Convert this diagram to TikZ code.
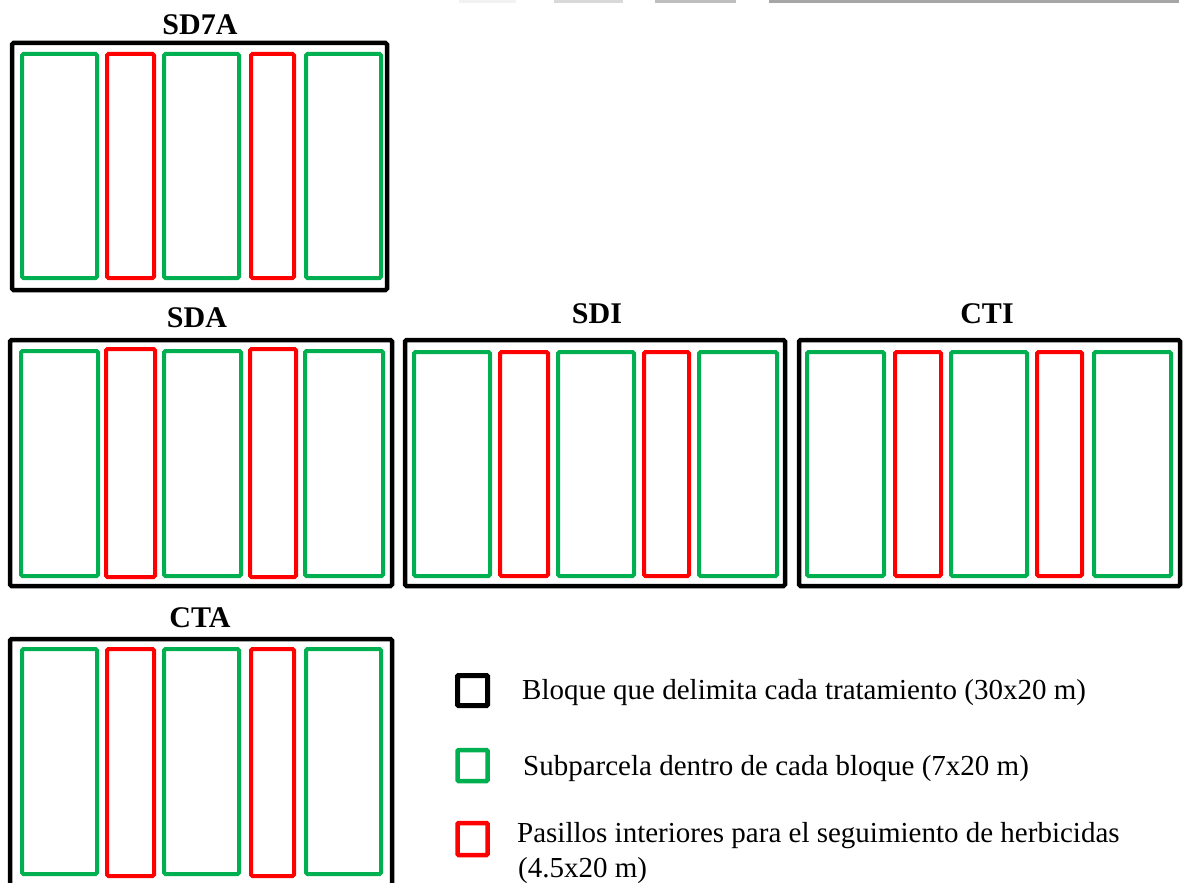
\documentclass[tikz,border=0pt]{standalone}
\usepackage{fontspec}
\setmainfont{Liberation Serif}
\definecolor{subgreen}{HTML}{00B050}
\definecolor{pasred}{HTML}{FF0000}
\definecolor{barA}{HTML}{F2F2F2}
\definecolor{barB}{HTML}{D9D9D9}
\definecolor{barC}{HTML}{BFBFBF}
\definecolor{barD}{HTML}{A6A6A6}
\begin{document}
\begin{tikzpicture}[x=1pt,y=-1pt,
  blockbox/.style={draw=black,line width=4.5pt,rounded corners=1.5pt},
  subbox/.style={draw=subgreen,line width=4pt,rounded corners=1.5pt},
  pasbox/.style={draw=pasred,line width=4pt,rounded corners=1.5pt},
  title/.style={font=\fontsize{30}{36}\selectfont\bfseries,anchor=base,inner sep=0pt},
  legtext/.style={font=\fontsize{29}{34}\selectfont,anchor=base west,inner sep=0pt,align=left}]
\useasboundingbox (0,0) rectangle (1184,883);
\fill[white] (0,0) rectangle (1184,883);
% top grey bars
\fill[barA] (459,0) rectangle (516,3.5);
\fill[barB] (554,0) rectangle (623,3.5);
\fill[barC] (655,0) rectangle (736,3.5);
\fill[barD] (769,0) rectangle (1179,3.5);

% ---------- SD7A ----------
\node[title] (tSD7A) at (200,35) {SD7A};
\draw[blockbox] (12,43) rectangle (387,290);
\foreach \a/\b in {22/97,164/239,306/381}
  \draw[subbox] (\a,54) rectangle (\b,278);
\foreach \a/\b in {107/154,251/294}
  \draw[pasbox] (\a,54) rectangle (\b,278);

% ---------- SDA ----------
\node[title] (tSDA) at (197,327) {SDA};
\draw[blockbox] (10,340) rectangle (392,586);
\foreach \a/\b in {21/98,164/241,305/383}
  \draw[subbox] (\a,351) rectangle (\b,576);
\foreach \a/\b in {106/155,250/296}
  \draw[pasbox] (\a,349) rectangle (\b,577);

% ---------- SDI ----------
\node[title] (tSDI) at (597,323) {SDI};
\draw[blockbox] (405,340) rectangle (785,586);
\foreach \a/\b in {414/490,558/634,699/777}
  \draw[subbox] (\a,352) rectangle (\b,576);
\foreach \a/\b in {500/548,644/689}
  \draw[pasbox] (\a,352) rectangle (\b,576);

% ---------- CTI ----------
\node[title] (tCTI) at (987,323) {CTI};
\draw[blockbox] (799,340) rectangle (1180,586);
\foreach \a/\b in {807/884,951/1027,1094/1171}
  \draw[subbox] (\a,352) rectangle (\b,576);
\foreach \a/\b in {895/941,1037/1082}
  \draw[pasbox] (\a,352) rectangle (\b,576);

% ---------- CTA ----------
\node[title] (tCTA) at (200,627) {CTA};
\begin{scope}
  \clip (0,0) rectangle (1184,883);
  \draw[blockbox] (10,639) rectangle (392,893);
  \foreach \a/\b in {22/97,164/239,306/381}
    \draw[subbox] (\a,649) rectangle (\b,874);
  \foreach \a/\b in {107/154,251/294}
    \draw[pasbox] (\a,649) rectangle (\b,876);
\end{scope}

% ---------- legend ----------
\draw[draw=black,line width=5pt,rounded corners=1pt] (457.5,675.5) rectangle (487.5,705.5);
\node[legtext] (l1) at (522,699) {Bloque que delimita cada tratamiento (30x20 m)};
\draw[draw=subgreen,line width=4.5pt,rounded corners=1pt] (457.5,750) rectangle (487.5,781);
\node[legtext] (l2) at (523,775) {Subparcela dentro de cada bloque (7x20 m)};
\draw[draw=pasred,line width=4.5pt,rounded corners=1pt] (457.5,823) rectangle (487.5,855);
\node[legtext] (l3) at (517,842) {Pasillos interiores para el seguimiento de herbicidas};
\node[legtext] (l4) at (518,877) {(4.5x20 m)};
\end{tikzpicture}
\end{document}
